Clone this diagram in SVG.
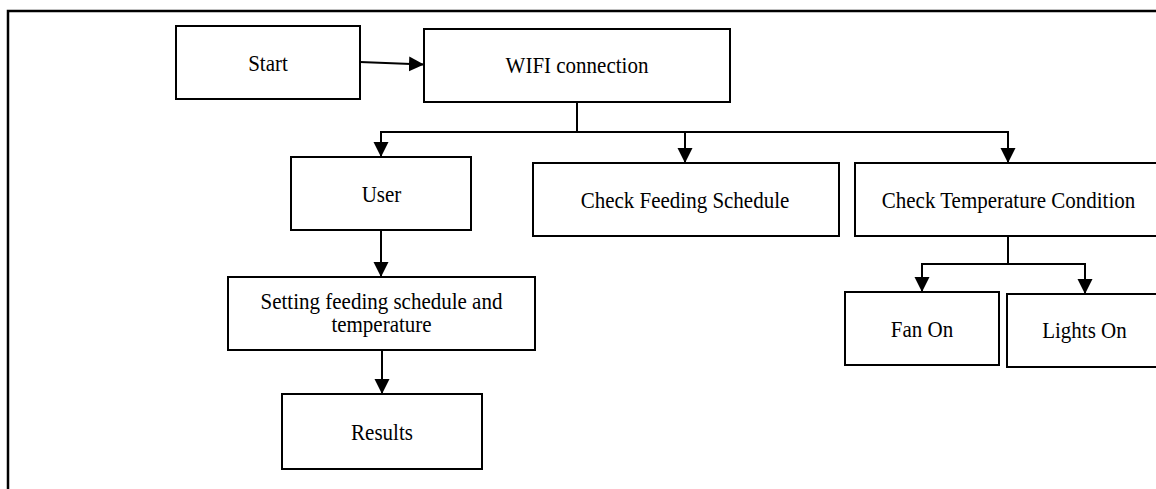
<svg xmlns="http://www.w3.org/2000/svg" width="1156" height="489" viewBox="0 0 1156 489">
<style>
.box{fill:#fff;stroke:#000;stroke-width:2}
.lbl{font-family:"Liberation Serif","Times New Roman",serif;font-size:21px;fill:#000;text-anchor:middle;transform-box:fill-box;transform-origin:50% 75%;transform:scaleY(1.07)}
.con{fill:none;stroke:#000;stroke-width:2}
</style>
<defs>
<marker id="ah" markerUnits="userSpaceOnUse" markerWidth="16" markerHeight="16" refX="15" refY="7.5" orient="auto">
<path d="M0,0 L15,7.5 L0,15 z" fill="#000"/>
</marker>
</defs>
<rect width="1156" height="489" fill="#fff"/>
<path d="M8,489 V11 H1156" fill="none" stroke="#000" stroke-width="2.5"/>
<g id="connectors">
<path class="con" d="M360,62 L424,64.5" marker-end="url(#ah)"/>
<path class="con" d="M577,102 V132 H381 V157" marker-end="url(#ah)"/>
<path class="con" d="M577,132 H685 V163" marker-end="url(#ah)"/>
<path class="con" d="M685,132 H1008 V163" marker-end="url(#ah)"/>
<path class="con" d="M381,230 V277" marker-end="url(#ah)"/>
<path class="con" d="M382,350 V394" marker-end="url(#ah)"/>
<path class="con" d="M1008,236 V264 H922 V292" marker-end="url(#ah)"/>
<path class="con" d="M1008,264 H1085 V294" marker-end="url(#ah)"/>
</g>
<g id="start"><rect class="box" x="176" y="26" width="184" height="73"/><text class="lbl" x="268" y="71">Start</text></g>
<g id="wifi"><rect class="box" x="424" y="29" width="306" height="73"/><text class="lbl" x="577" y="73">WIFI connection</text></g>
<g id="user"><rect class="box" x="291" y="157" width="180" height="73"/><text class="lbl" x="381.5" y="202">User</text></g>
<g id="feeding"><rect class="box" x="533" y="163" width="306" height="73"/><text class="lbl" x="685" y="208">Check Feeding Schedule</text></g>
<g id="temperature"><rect class="box" x="855" y="163" width="310" height="73"/><text class="lbl" x="1008.5" y="208">Check Temperature Condition</text></g>
<g id="setting"><rect class="box" x="228" y="277" width="307" height="73"/><text class="lbl" x="381.5" y="309">Setting feeding schedule and</text><text class="lbl" x="381.5" y="332">temperature</text></g>
<g id="results"><rect class="box" x="282" y="394" width="200" height="75"/><text class="lbl" x="382" y="440">Results</text></g>
<g id="fan"><rect class="box" x="845" y="292" width="154" height="73"/><text class="lbl" x="922" y="337">Fan On</text></g>
<g id="lights"><rect class="box" x="1007" y="294" width="160" height="73"/><text class="lbl" x="1084.5" y="338">Lights On</text></g>
</svg>
